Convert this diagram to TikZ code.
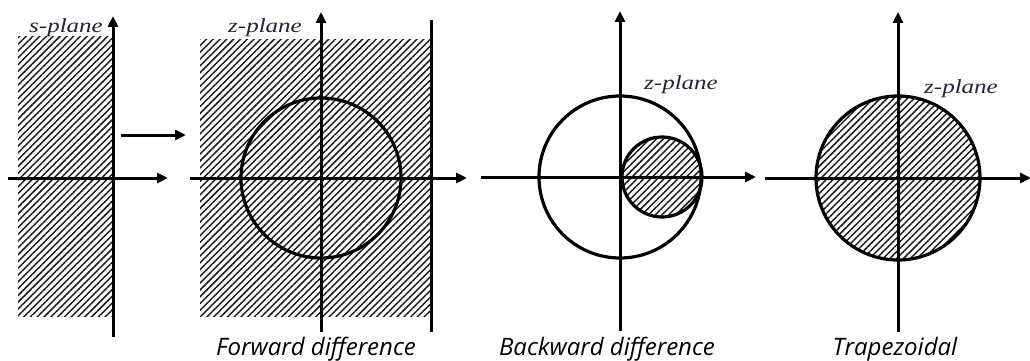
\documentclass[tikz,border=0pt]{standalone}
\usepackage{fontspec}
\setmainfont{Liberation Serif}
\newfontfamily\capfont{Open Sans}
\usetikzlibrary{arrows.meta,patterns.meta}
\definecolor{lbl}{RGB}{35,35,55}
\tikzset{
  ax/.style={line width=3pt,-{Triangle[length=11pt,width=10pt]}},
  plain/.style={line width=3pt},
  circ/.style={line width=3.2pt},
  hatch/.style={pattern={Lines[angle=45,distance=4.8pt,line width=1.45pt]},pattern color=black!90},
  plabel/.style={font=\fontsize{20}{21}\selectfont\itshape,text=lbl,inner sep=0pt},
  caption/.style={font=\capfont\fontsize{24}{26}\selectfont\itshape,inner sep=0pt,anchor=base}
}
\begin{document}
\begin{tikzpicture}[x=1pt,y=-1pt]
\useasboundingbox (0,0) rectangle (1030,361);
% panel 1
\fill[hatch] (18,37) rectangle (113,316);
\coordinate (s1b) at (113,337); \coordinate (s1t) at (113,16);
\coordinate (s1l) at (8,178); \coordinate (s1r) at (168,178);
\draw[ax] (s1b) -- (s1t);
\draw[ax] (s1l) -- (s1r);
\node[plabel,anchor=east] (slab) at (103,28) {\scalebox{1.25}[1]{s-plane}};
% map arrow
\coordinate (ma) at (121,135); \coordinate (mb) at (186,135);
\draw[ax] (ma) -- (mb);
% panel 2
\fill[hatch] (200,40) rectangle (431,316);
\coordinate (z2c) at (321,178);
\draw[circ] (z2c) circle[radius=80];
\coordinate (z2b) at (321,332); \coordinate (z2t) at (321,12);
\coordinate (z2l) at (190,178); \coordinate (z2r) at (467,178);
\coordinate (z2vb) at (431,332); \coordinate (z2vt) at (431,20);
\draw[ax] (z2b) -- (z2t);
\draw[ax] (z2l) -- (z2r);
\draw[plain] (z2vb) -- (z2vt);
\node[plabel,anchor=east] (zlab2) at (302,28) {\scalebox{1.25}[1]{z-plane}};
\node[caption] (cap1) at (316,355) {Forward difference};
% panel 3
\coordinate (z3c) at (620,177); \coordinate (z3s) at (662,177);
\draw[circ,hatch] (z3s) circle[radius=40];
\draw[circ] (z3c) circle[radius=81];
\coordinate (z3b) at (620,331); \coordinate (z3t) at (620,11);
\coordinate (z3l) at (481,177); \coordinate (z3r) at (756,177);
\draw[ax] (z3b) -- (z3t);
\draw[ax] (z3l) -- (z3r);
\node[plabel,anchor=east] (zlab3) at (718,85) {\scalebox{1.25}[1]{z-plane}};
\node[caption] (cap2) at (607,355) {Backward difference};
% panel 4
\coordinate (z4c) at (898,178);
\draw[circ,hatch] (z4c) circle[radius=82];
\coordinate (z4b) at (898,332); \coordinate (z4t) at (898,12);
\coordinate (z4l) at (765,178); \coordinate (z4r) at (1031,178);
\draw[ax] (z4b) -- (z4t);
\draw[ax] (z4l) -- (z4r);
\node[plabel,anchor=east] (zlab4) at (998,89) {\scalebox{1.25}[1]{z-plane}};
\node[caption] (cap3) at (895,355) {Trapezoidal};
\end{tikzpicture}
\end{document}
